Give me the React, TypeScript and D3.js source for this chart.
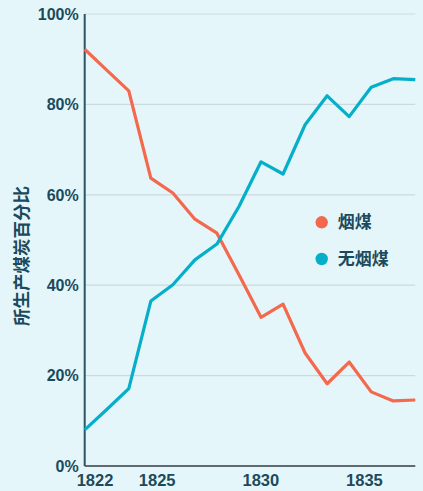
import React from "react";
import * as d3 from "d3";

// years and share of coal produced (%)
const years = [1822, 1823, 1824, 1825, 1826, 1827, 1828, 1829, 1830, 1831, 1832, 1833, 1834, 1835, 1836, 1837];
const bituminous = [92.2, 87.6, 83.0, 63.7, 60.4, 54.6, 51.5, 42.3, 32.9, 35.8, 25.0, 18.2, 23.0, 16.4, 14.4, 14.6];
const anthracite = [8.0, 12.5, 17.1, 36.5, 40.1, 45.6, 49.1, 57.4, 67.3, 64.6, 75.5, 81.9, 77.3, 83.8, 85.7, 85.5];
const seriesNames = ["烟煤", "无烟煤"];
const yTicks = [0, 20, 40, 60, 80, 100];
const xTicks = [1822, 1825, 1830, 1835];

const W = 423;
const H = 491;
const BG = "#e4f6f9";
const TEXT = "#1c4a5c";
const COLORS = ["#f4694e", "#05afc9"];
const FONT = "'Liberation Sans', Arial, sans-serif";
const CJK = "'Noto Sans CJK SC', sans-serif";

export default function App() {
  // scales
  const x = d3.scaleLinear().domain([1822, 1837]).range([84.7, 415.3]);
  const xLabel = d3.scaleLinear().domain([1822, 1837]).range([95, 405.9]);
  const y = d3.scaleLinear().domain([0, 100]).range([466, 14]);

  const line = d3
    .line<number>()
    .x((d, i) => x(years[i]))
    .y((d) => y(d));

  const series = [bituminous, anthracite];

  return (
    <svg
      width={W}
      height={H}
      style={{ position: "absolute", left: 0, top: 0, display: "block" }}
    >
      <rect width={W} height={H} fill={BG} />

      {/* grid */}
      {yTicks.filter((t) => t > 0).map((t) => (
        <line
          key={"g" + t}
          x1={x(1822)}
          x2={x(1837)}
          y1={y(t)}
          y2={y(t)}
          stroke="#cdd9de"
          strokeWidth={1.2}
        />
      ))}

      {/* y tick labels */}
      {yTicks.map((t) => (
        <text
          key={"y" + t}
          x={x(1822) - 6}
          y={y(t)}
          dy="0.36em"
          textAnchor="end"
          fontFamily={FONT}
          fontWeight="bold"
          fontSize={16}
          fill={TEXT}
        >
          {t + "%"}
        </text>
      ))}

      {/* x tick labels */}
      {xTicks.map((t) => (
        <text
          key={"x" + t}
          x={xLabel(t)}
          y={486}
          textAnchor="middle"
          fontFamily={FONT}
          fontWeight="bold"
          fontSize={16.5}
          fill={TEXT}
        >
          {t}
        </text>
      ))}

      {/* axes */}
      <line x1={x(1822)} x2={x(1837)} y1={y(0)} y2={y(0)} stroke="#5f6b70" strokeWidth={2} />
      <line x1={x(1822)} x2={x(1822)} y1={y(100)} y2={y(0)} stroke="#2c5566" strokeWidth={2} />

      {/* lines */}
      {series.map((s, i) => (
        <path
          key={"s" + i}
          d={line(s) || ""}
          fill="none"
          stroke={COLORS[i]}
          strokeWidth={3.2}
          strokeLinejoin="round"
        />
      ))}

      {/* legend */}
      {seriesNames.map((name, i) => (
        <g key={name} transform={`translate(321.7, ${222.3 + i * 36.7})`}>
          <circle r={6.2} fill={COLORS[i]} />
          <text
            x={16}
            dy="0.35em"
            fontFamily={CJK}
            fontWeight="bold"
            fontSize={17}
            fill={TEXT}
          >
            {name}
          </text>
        </g>
      ))}

      {/* y axis title */}
      <text
        transform={`translate(22, ${256}) rotate(-90)`}
        textAnchor="middle"
        dy="0.35em"
        fontFamily={CJK}
        fontWeight="bold"
        fontSize={17.5}
        fill={TEXT}
      >
        所生产煤炭百分比
      </text>
    </svg>
  );
}
